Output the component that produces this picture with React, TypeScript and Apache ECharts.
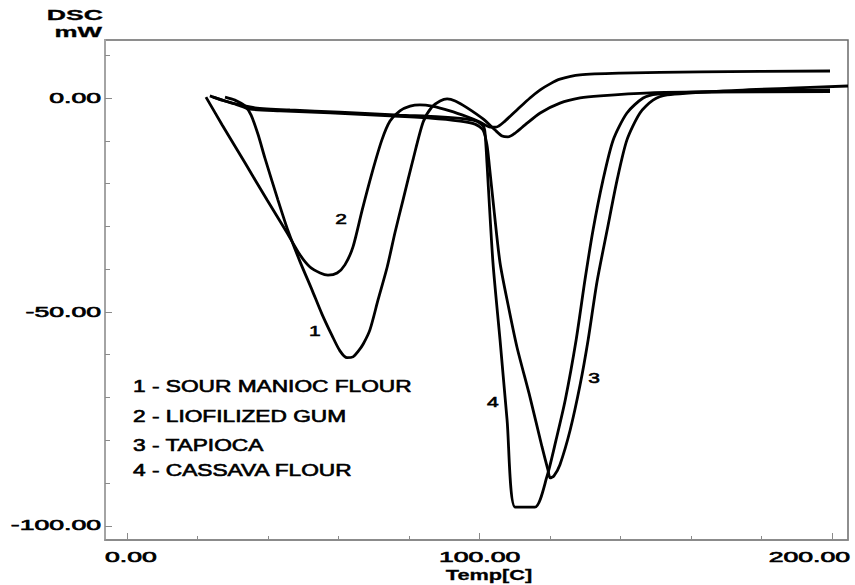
import React, { useEffect, useRef } from "react";
import * as echarts from "echarts";

// DSC thermograms: temperature (°C) vs heat flow (mW)
const curveNames = ["SOUR MANIOC FLOUR", "LIOFILIZED GUM", "TAPIOCA", "CASSAVA FLOUR"];

const sourManiocFlour: [number, number][] = [
  [27.8, 0.2], [30.6, -0.5], [33.5, -1.9], [35.2, -4.0], [37.2, -8.6], [39.1, -14.0],
  [42.8, -23.8], [45.7, -31.1], [49.1, -38.3], [52.5, -44.9], [55.3, -50.5], [58.2, -55.6],
  [60.4, -59.1], [62.4, -60.7], [64.1, -60.5], [65.5, -59.3], [67.0, -57.5], [68.9, -54.2],
  [71.2, -47.2], [73.8, -39.5], [76.0, -31.5], [78.3, -23.8], [81.1, -14.5], [84.0, -5.6],
  [86.5, -2.1], [88.8, -0.7], [90.8, -0.2], [93.1, -0.7], [96.5, -2.3], [101.0, -4.9],
  [104.4, -7.5], [106.4, -8.9], [108.1, -9.1], [110.1, -8.2], [112.9, -6.3], [117.2, -3.5],
  [122.8, -1.2], [128.5, 0], [134.2, 0.5], [148.4, 1.2], [162.6, 1.4], [199.4, 1.5],
];

const liofilizedGum: [number, number][] = [
  [22.4, 0.2], [27.0, -6.3], [33.5, -15.2], [39.7, -23.8], [45.4, -31.5], [49.1, -36.7],
  [51.9, -39.5], [54.8, -40.9], [57.0, -41.4], [59.6, -40.9], [61.8, -39.0], [64.1, -34.8],
  [66.7, -26.2], [69.5, -17.5], [72.3, -9.8], [74.6, -5.4], [77.4, -3.0], [80.3, -1.9],
  [83.1, -1.6], [86.5, -1.9], [91.6, -3.0], [96.5, -4.4], [100.1, -5.6], [103.0, -6.8],
  [104.7, -6.8], [107.2, -5.4], [110.6, -2.8], [114.3, 0], [117.2, 1.9], [120.0, 3.3],
  [122.8, 4.4], [128.5, 5.4], [139.9, 5.8], [162.6, 6.1], [199.4, 6.3],
];

const tapioca: [number, number][] = [
  [23.5, 0.5], [27.0, -0.5], [30.6, -1.4], [34.9, -2.6], [43.4, -3.0], [57.6, -3.5],
  [74.6, -4.2], [86.0, -4.7], [94.5, -5.4], [98.7, -6.1], [101.0, -7.5], [102.1, -11.0],
  [102.7, -15.2], [104.1, -26.2], [105.8, -38.5], [108.1, -48.4], [110.6, -58.2], [114.3, -69.9],
  [117.7, -81.5], [119.4, -86.9], [120.0, -88.8], [121.1, -88.3], [122.8, -85.7], [125.7, -77.6],
  [128.5, -67.1], [130.8, -56.5], [133.3, -43.0], [136.2, -30.8], [139.0, -19.2], [141.8, -9.8],
  [145.5, -3.5], [149.2, -0.5], [153.2, 0.7], [168.2, 1.6], [188.1, 2.3], [204.5, 2.8],
];

const cassavaFlour: [number, number][] = [
  [24.4, 0.2], [27.8, -0.7], [32.1, -1.6], [36.3, -2.3], [46.2, -2.8], [60.4, -3.3],
  [77.4, -4.0], [88.8, -4.4], [95.9, -4.9], [99.6, -5.6], [101.3, -7.0], [101.8, -11.0],
  [102.1, -15.2], [103.8, -38.5], [105.8, -56.5], [107.8, -75.2], [110.1, -95.6],
  [115.7, -95.6], [119.1, -88.5], [121.7, -79.9], [124.3, -70.6], [127.4, -56.5],
  [129.9, -42.5], [132.2, -30.8], [135.0, -19.2], [137.9, -9.8], [141.8, -3.5],
  [146.4, 0], [150.4, 0.9], [162.6, 1.4], [199.4, 1.9],
];

const xMajorTicks = [0, 100, 200];
const xMinorTicks = [20, 40, 60, 80, 120, 140, 160, 180];
const yMajorTicks = [0, -50, -100];
const yMinorTicks = [10, -10, -20, -30, -40, -60, -70, -80, -90];

const X_MIN = -6.24;
const X_MAX = 204.5;
const Y_MIN = -103.3;
const Y_MAX = 13.55;

const FONT = '"Liberation Sans", Arial, Helvetica, sans-serif';
const AXIS_GRAY = "#8a8a8a";

const GRID = { left: 105, right: 7, top: 40, bottom: 45 };

const measureCtx = document.createElement("canvas").getContext("2d");
function textWidth(text: string, size: number, weight: string) {
  if (!measureCtx) return text.length * size * 0.55;
  measureCtx.font = `${weight} ${size}px ${FONT}`;
  return measureCtx.measureText(text).width;
}

// Horizontally widened text, drawn with a hairline outline for a heavier stroke
function wideText(
  text: string,
  x: number,
  y: number,
  size: number,
  scale: number,
  align: "left" | "center" | "right",
  weight = "normal",
  outline = 0.6
) {
  return {
    type: "text",
    x,
    y,
    scaleX: scale,
    silent: true,
    style: {
      text,
      fill: "#000",
      stroke: outline > 0 ? "#000" : undefined,
      lineWidth: outline,
      fontSize: size,
      fontFamily: FONT,
      fontWeight: weight,
      textAlign: align,
      textVerticalAlign: "middle",
      align,
      verticalAlign: "middle",
    },
  };
}

export default function App() {
  const ref = useRef<HTMLDivElement>(null);

  useEffect(() => {
    if (!ref.current) return;
    const chart = echarts.init(ref.current, null, { renderer: "svg" });

    const series = [sourManiocFlour, liofilizedGum, tapioca, cassavaFlour].map((data, i) => ({
      name: curveNames[i],
      type: "line",
      data,
      xAxisIndex: 0,
      yAxisIndex: 0,
      showSymbol: false,
      symbol: "none",
      smooth: 0.25,
      clip: true,
      lineStyle: { color: "#000", width: 2.8 },
    }));

    const baseX = {
      type: "value",
      min: X_MIN,
      max: X_MAX,
      position: "bottom",
      splitLine: { show: false },
      axisLabel: { show: false },
    };
    const baseY = {
      type: "value",
      min: Y_MIN,
      max: Y_MAX,
      position: "left",
      splitLine: { show: false },
      axisLabel: { show: false },
    };

    chart.setOption({
      animation: false,
      backgroundColor: "#fff",
      grid: {
        ...GRID,
        show: true,
        borderColor: "#6a6a6a",
        borderWidth: 1.5,
        backgroundColor: "transparent",
      },
      xAxis: [
        {
          ...baseX,
          axisLine: { show: true, onZero: false, lineStyle: { color: AXIS_GRAY, width: 1.5 } },
          axisTick: {
            show: true,
            inside: true,
            length: 4,
            customValues: xMinorTicks,
            lineStyle: { color: AXIS_GRAY, width: 1 },
          },
        },
        {
          ...baseX,
          axisLine: { show: false, onZero: false },
          axisTick: {
            show: true,
            inside: true,
            length: 7,
            customValues: xMajorTicks,
            lineStyle: { color: AXIS_GRAY, width: 1 },
          },
        },
      ],
      yAxis: [
        {
          ...baseY,
          axisLine: { show: true, onZero: false, lineStyle: { color: "#a4a4a4", width: 2 } },
          axisTick: {
            show: true,
            inside: true,
            length: 5,
            customValues: yMinorTicks,
            lineStyle: { color: AXIS_GRAY, width: 1 },
          },
        },
        {
          ...baseY,
          axisLine: { show: false, onZero: false },
          axisTick: {
            show: true,
            inside: true,
            length: 7,
            customValues: yMajorTicks,
            lineStyle: { color: AXIS_GRAY, width: 1 },
          },
        },
      ],
      series,
    });

    const xPx = (v: number) => chart.convertToPixel({ xAxisIndex: 0 }, v) as number;
    const yPx = (v: number) => chart.convertToPixel({ yAxisIndex: 0 }, v) as number;

    const plotLeft = GRID.left;
    const plotRight = 855 - GRID.right + 2;

    const graphics: any[] = [];

    // y tick labels
    const tickSize = 14;
    const tickScale = 1.9;
    yMajorTicks.forEach((v) => {
      graphics.push(wideText(v.toFixed(2), 101, yPx(v), tickSize, tickScale, "right"));
    });

    // x tick labels, kept inside the plot's horizontal extent
    xMajorTicks.forEach((v) => {
      const text = v.toFixed(2);
      const w = textWidth(text, tickSize, "normal") * tickScale;
      const cx = xPx(v);
      if (cx + w / 2 > plotRight) {
        graphics.push(wideText(text, plotRight, 557, tickSize, tickScale, "right"));
      } else if (cx - w / 2 < plotLeft) {
        graphics.push(wideText(text, plotLeft, 557, tickSize, tickScale, "left"));
      } else {
        graphics.push(wideText(text, cx, 557, tickSize, tickScale, "center"));
      }
    });

    // axis titles
    graphics.push(wideText("DSC", 103, 15, 14, 1.9, "right", "bold", 0.3));
    graphics.push(wideText("mW", 102, 32, 14, 1.85, "right", "bold", 0.3));
    graphics.push(wideText("Temp[C]", 489, 575, 15, 1.45, "center", "bold", 0.3));

    // legend block
    const legendRows = [386, 416, 445, 470];
    curveNames.forEach((name, i) => {
      graphics.push(wideText(`${i + 1} - ${name}`, 133, legendRows[i], 16, 1.42, "left"));
    });

    // curve number tags, placed in data coordinates next to each trace
    const tags: [string, number, number][] = [
      ["1", 53.3, -54.4],
      ["2", 60.7, -28.3],
      ["3", 132.5, -65.4],
      ["4", 103.8, -71.0],
    ];
    tags.forEach(([t, x, y]) => {
      graphics.push(wideText(t, xPx(x), yPx(y), 15, 1.4, "center"));
    });

    chart.setOption({ graphic: graphics });

    return () => chart.dispose();
  }, []);

  return (
    <div
      ref={ref}
      style={{ position: "fixed", left: 0, top: 0, width: 855, height: 585, background: "#fff" }}
    />
  );
}
